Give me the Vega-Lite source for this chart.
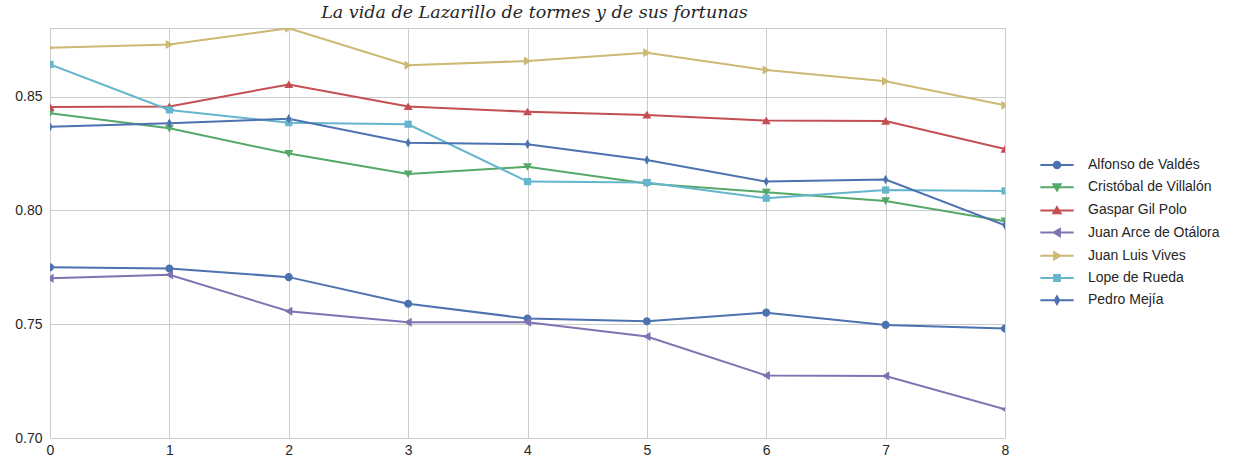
{
  "$schema": "https://vega.github.io/schema/vega-lite/v6.json",
  "autosize": {"type": "none"},
  "width": 955,
  "height": 410,
  "padding": {"left": 50, "top": 28, "right": 247, "bottom": 23},
  "background": "white",
  "title": {
    "text": "La vida de Lazarillo de tormes y de sus fortunas",
    "font": "DejaVu Serif",
    "fontStyle": "italic",
    "fontWeight": "normal",
    "fontSize": 17.5,
    "color": "#262626",
    "anchor": "middle",
    "dx": 7,
    "offset": 7
  },
  "config": {
    "view": {"stroke": "#cccccc", "strokeWidth": 1},
    "axis": {
      "labelFont": "Liberation Sans",
      "labelFontSize": 14,
      "labelColor": "#262626",
      "gridColor": "#cccccc",
      "gridWidth": 1,
      "domainColor": "#cccccc",
      "ticks": false,
      "title": null
    },
    "legend": {"symbolOpacity": 1, "symbolStrokeWidth": 2}
  },
  "data": {
    "values": [
      {"author": "Alfonso de Valdés", "x": 0, "v": 0.7750},
      {"author": "Alfonso de Valdés", "x": 1, "v": 0.7745},
      {"author": "Alfonso de Valdés", "x": 2, "v": 0.7707},
      {"author": "Alfonso de Valdés", "x": 3, "v": 0.7590},
      {"author": "Alfonso de Valdés", "x": 4, "v": 0.7525},
      {"author": "Alfonso de Valdés", "x": 5, "v": 0.7513},
      {"author": "Alfonso de Valdés", "x": 6, "v": 0.7551},
      {"author": "Alfonso de Valdés", "x": 7, "v": 0.7497},
      {"author": "Alfonso de Valdés", "x": 8, "v": 0.7481},
      {"author": "Cristóbal de Villalón", "x": 0, "v": 0.8427},
      {"author": "Cristóbal de Villalón", "x": 1, "v": 0.8361},
      {"author": "Cristóbal de Villalón", "x": 2, "v": 0.8250},
      {"author": "Cristóbal de Villalón", "x": 3, "v": 0.8160},
      {"author": "Cristóbal de Villalón", "x": 4, "v": 0.8192},
      {"author": "Cristóbal de Villalón", "x": 5, "v": 0.8119},
      {"author": "Cristóbal de Villalón", "x": 6, "v": 0.8080},
      {"author": "Cristóbal de Villalón", "x": 7, "v": 0.8042},
      {"author": "Cristóbal de Villalón", "x": 8, "v": 0.7953},
      {"author": "Gaspar Gil Polo", "x": 0, "v": 0.8455},
      {"author": "Gaspar Gil Polo", "x": 1, "v": 0.8457},
      {"author": "Gaspar Gil Polo", "x": 2, "v": 0.8554},
      {"author": "Gaspar Gil Polo", "x": 3, "v": 0.8457},
      {"author": "Gaspar Gil Polo", "x": 4, "v": 0.8434},
      {"author": "Gaspar Gil Polo", "x": 5, "v": 0.8420},
      {"author": "Gaspar Gil Polo", "x": 6, "v": 0.8395},
      {"author": "Gaspar Gil Polo", "x": 7, "v": 0.8393},
      {"author": "Gaspar Gil Polo", "x": 8, "v": 0.8270},
      {"author": "Juan Arce de Otálora", "x": 0, "v": 0.7702},
      {"author": "Juan Arce de Otálora", "x": 1, "v": 0.7717},
      {"author": "Juan Arce de Otálora", "x": 2, "v": 0.7557},
      {"author": "Juan Arce de Otálora", "x": 3, "v": 0.7509},
      {"author": "Juan Arce de Otálora", "x": 4, "v": 0.7509},
      {"author": "Juan Arce de Otálora", "x": 5, "v": 0.7446},
      {"author": "Juan Arce de Otálora", "x": 6, "v": 0.7275},
      {"author": "Juan Arce de Otálora", "x": 7, "v": 0.7272},
      {"author": "Juan Arce de Otálora", "x": 8, "v": 0.7126},
      {"author": "Juan Luis Vives", "x": 0, "v": 0.8715},
      {"author": "Juan Luis Vives", "x": 1, "v": 0.8730},
      {"author": "Juan Luis Vives", "x": 2, "v": 0.8801},
      {"author": "Juan Luis Vives", "x": 3, "v": 0.8638},
      {"author": "Juan Luis Vives", "x": 4, "v": 0.8657},
      {"author": "Juan Luis Vives", "x": 5, "v": 0.8693},
      {"author": "Juan Luis Vives", "x": 6, "v": 0.8617},
      {"author": "Juan Luis Vives", "x": 7, "v": 0.8568},
      {"author": "Juan Luis Vives", "x": 8, "v": 0.8462},
      {"author": "Lope de Rueda", "x": 0, "v": 0.8642},
      {"author": "Lope de Rueda", "x": 1, "v": 0.8442},
      {"author": "Lope de Rueda", "x": 2, "v": 0.8386},
      {"author": "Lope de Rueda", "x": 3, "v": 0.8379},
      {"author": "Lope de Rueda", "x": 4, "v": 0.8127},
      {"author": "Lope de Rueda", "x": 5, "v": 0.8123},
      {"author": "Lope de Rueda", "x": 6, "v": 0.8054},
      {"author": "Lope de Rueda", "x": 7, "v": 0.8090},
      {"author": "Lope de Rueda", "x": 8, "v": 0.8086},
      {"author": "Pedro Mejía", "x": 0, "v": 0.8368},
      {"author": "Pedro Mejía", "x": 1, "v": 0.8383},
      {"author": "Pedro Mejía", "x": 2, "v": 0.8403},
      {"author": "Pedro Mejía", "x": 3, "v": 0.8298},
      {"author": "Pedro Mejía", "x": 4, "v": 0.8291},
      {"author": "Pedro Mejía", "x": 5, "v": 0.8222},
      {"author": "Pedro Mejía", "x": 6, "v": 0.8127},
      {"author": "Pedro Mejía", "x": 7, "v": 0.8136},
      {"author": "Pedro Mejía", "x": 8, "v": 0.7935}
    ]
  },
  "encoding": {
    "x": {
      "field": "x",
      "type": "quantitative",
      "scale": {"domain": [0, 8], "nice": false, "zero": false},
      "axis": {"values": [0, 1, 2, 3, 4, 5, 6, 7, 8], "format": "d", "labelPadding": 5, "labelFlush": false}
    },
    "y": {
      "field": "v",
      "type": "quantitative",
      "scale": {"domain": [0.70, 0.8802], "nice": false, "zero": false},
      "axis": {"values": [0.70, 0.75, 0.80, 0.85], "format": ".2f", "labelPadding": 8, "labelFlush": false}
    }
  },
  "layer": [
    {
      "mark": {"type": "line", "strokeWidth": 2, "clip": true},
      "encoding": {
        "color": {
          "field": "author",
          "type": "nominal",
          "scale": {
            "domain": ["Alfonso de Valdés", "Cristóbal de Villalón", "Gaspar Gil Polo", "Juan Arce de Otálora", "Juan Luis Vives", "Lope de Rueda", "Pedro Mejía"],
            "range": ["#4C72B0", "#55A868", "#C44E52", "#8172B2", "#CCB974", "#64B5CD", "#4C72B0"]
          },
          "legend": null
        }
      }
    },
    {
      "mark": {"type": "point", "filled": true, "opacity": 1, "size": 81, "clip": true},
      "encoding": {
        "color": {
          "field": "author",
          "type": "nominal",
          "legend": null
        },
        "shape": {
          "field": "author",
          "type": "nominal",
          "scale": {
            "domain": ["Alfonso de Valdés", "Cristóbal de Villalón", "Gaspar Gil Polo", "Juan Arce de Otálora", "Juan Luis Vives", "Lope de Rueda", "Pedro Mejía"],
            "range": [
              "M0.9,0A0.9,0.9,0,1,1,-0.9,0A0.9,0.9,0,1,1,0.9,0Z",
              "M-1,-0.8L1,-0.8L0,0.9Z",
              "M-1,0.8L1,0.8L0,-0.9Z",
              "M0.8,-1L0.8,1L-0.9,0Z",
              "M-0.8,-1L-0.8,1L0.9,0Z",
              "M-0.8,-0.8L0.8,-0.8L0.8,0.8L-0.8,0.8Z",
              "M0,-1.05L0.6,0L0,1.05L-0.6,0Z"
            ]
          },
          "legend": null
        }
      }
    },
    {
      "mark": {"type": "point", "opacity": 0, "size": 81, "strokeWidth": 2, "clip": true},
      "encoding": {
        "fill": {
          "field": "author",
          "type": "nominal",
          "scale": {
            "domain": ["Alfonso de Valdés", "Cristóbal de Villalón", "Gaspar Gil Polo", "Juan Arce de Otálora", "Juan Luis Vives", "Lope de Rueda", "Pedro Mejía"],
            "range": ["#4C72B0", "#55A868", "#C44E52", "#8172B2", "#CCB974", "#64B5CD", "#4C72B0"]
          },
          "legend": {
            "title": null,
            "orient": "none",
            "legendX": 1000,
            "legendY": 130,
            "labelFont": "Liberation Sans",
            "labelFontSize": 14,
            "labelColor": "#262626",
            "rowPadding": 7.2,
            "symbolSize": 81,
            "symbolStrokeWidth": 2,
            "symbolOpacity": 1,
            "labelOffset": 24
          }
        },
        "stroke": {
          "field": "author",
          "type": "nominal",
          "scale": {
            "domain": ["Alfonso de Valdés", "Cristóbal de Villalón", "Gaspar Gil Polo", "Juan Arce de Otálora", "Juan Luis Vives", "Lope de Rueda", "Pedro Mejía"],
            "range": ["#4C72B0", "#55A868", "#C44E52", "#8172B2", "#CCB974", "#64B5CD", "#4C72B0"]
          },
          "legend": {
            "title": null,
            "orient": "none",
            "legendX": 1000,
            "legendY": 130,
            "labelFont": "Liberation Sans",
            "labelFontSize": 14,
            "labelColor": "#262626",
            "rowPadding": 7.2,
            "symbolSize": 81,
            "symbolStrokeWidth": 2,
            "symbolOpacity": 1,
            "labelOffset": 24
          }
        },
        "shape": {
          "field": "author",
          "type": "nominal",
          "scale": {
            "domain": ["Alfonso de Valdés", "Cristóbal de Villalón", "Gaspar Gil Polo", "Juan Arce de Otálora", "Juan Luis Vives", "Lope de Rueda", "Pedro Mejía"],
            "range": [
              "M0.72,0A0.72,0.72,0,1,1,-0.72,0A0.72,0.72,0,1,1,0.72,0Z M-3.7,0L3.7,0",
              "M-0.8,-0.64L0.8,-0.64L0,0.72Z M-3.7,0L3.7,0",
              "M-0.8,0.64L0.8,0.64L0,-0.72Z M-3.7,0L3.7,0",
              "M0.64,-0.8L0.64,0.8L-0.72,0Z M-3.7,0L3.7,0",
              "M-0.64,-0.8L-0.64,0.8L0.72,0Z M-3.7,0L3.7,0",
              "M-0.64,-0.64L0.64,-0.64L0.64,0.64L-0.64,0.64Z M-3.7,0L3.7,0",
              "M0,-0.85L0.48,0L0,0.85L-0.48,0Z M-3.7,0L3.7,0"
            ]
          },
          "legend": {
            "title": null,
            "orient": "none",
            "legendX": 1000,
            "legendY": 130,
            "labelFont": "Liberation Sans",
            "labelFontSize": 14,
            "labelColor": "#262626",
            "rowPadding": 7.2,
            "symbolSize": 81,
            "symbolStrokeWidth": 2,
            "symbolOpacity": 1,
            "labelOffset": 24
          }
        }
      }
    }
  ],
  "resolve": {"scale": {"shape": "independent", "fill": "independent", "stroke": "independent"}}
}
